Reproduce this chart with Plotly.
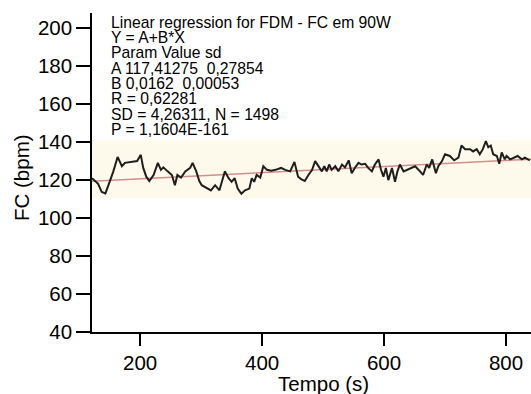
import plotly.graph_objects as go

# Heart-rate trace (time in s, FC in bpm)
time_s = [121, 125, 131, 137, 143, 148, 156, 163, 170, 175, 184, 195, 201, 205, 210, 215,
          222, 229, 234, 238, 245, 252, 257, 261, 267, 274, 282, 286, 292, 297, 301, 309,
          316, 323, 330, 334, 339, 345, 350, 355, 360, 366, 372, 379, 383, 387, 391, 397,
          402, 408, 415, 422, 431, 438, 446, 453, 459, 464, 470, 476, 482, 487, 492, 498,
          502, 506, 510, 514, 520, 525, 531, 536, 542, 547, 552, 558, 563, 569, 574, 580,
          585, 591, 595, 599, 603, 607, 613, 618, 622, 626, 632, 637, 643, 651, 659, 664,
          670, 674, 679, 685, 689, 695, 700, 708, 715, 722, 727, 733, 741, 746, 752, 757,
          762, 767, 771, 775, 779, 785, 789, 793, 798, 801, 807, 812, 819, 826, 831, 839]
fc_bpm = [121.0, 120.0, 118.0, 113.7, 113.0, 117.3, 124.6, 132.2, 127.3, 129.1, 129.5, 130.0,
          133.3, 126.4, 121.8, 119.5, 122.7, 129.1, 125.4, 126.7, 124.6, 122.7, 117.3, 122.7,
          121.3, 124.6, 126.4, 129.1, 124.6, 119.5, 117.3, 115.9, 114.6, 117.3, 114.6, 119.1,
          124.6, 121.0, 119.1, 121.0, 115.5, 112.8, 114.6, 115.5, 121.0, 119.1, 122.7, 121.3,
          127.3, 125.4, 124.9, 125.4, 126.4, 125.4, 124.6, 129.6, 121.8, 120.5, 119.5, 122.7,
          125.4, 130.0, 127.8, 124.6, 127.3, 124.6, 128.2, 125.4, 127.3, 124.6, 128.2, 126.7,
          130.4, 123.6, 126.4, 129.1, 128.2, 128.6, 126.4, 124.6, 128.2, 130.9, 125.4, 121.8,
          126.4, 120.0, 126.4, 119.1, 124.6, 128.2, 124.6, 125.4, 126.4, 127.3, 124.6, 122.7,
          128.2, 126.4, 130.9, 123.6, 127.3, 130.0, 133.6, 132.7, 130.4, 131.8, 138.2, 136.3,
          136.3, 135.1, 136.3, 133.6, 136.3, 140.5, 137.3, 138.2, 133.6, 132.7, 128.6, 134.6,
          130.9, 132.7, 130.9, 131.8, 132.7, 130.9, 131.8, 130.4]

# Linear regression parameters (from the chart text)
reg_A = 117.41275
reg_B = 0.0162
reg_x = [121, 845]
reg_y = [reg_A + reg_B * x for x in reg_x]

# Shaded band limits (bpm)
band = [110.5, 141]

info_lines = [
    "Linear regression for FDM - FC em 90W",
    "Y = A+B*X",
    "Param Value sd",
    "A 117,41275  0,27854",
    "B 0,0162  0,00053",
    "R = 0,62281",
    "SD = 4,26311, N = 1498",
    "P = 1,1604E-161",
]

x_ticks = [200, 400, 600, 800]
y_ticks = [40, 60, 80, 100, 120, 140, 160, 180, 200]

W, H = 531, 394
ML, MR, MT, MB = 92, 0, 13, 62
PH = H - MT - MB
PW = W - ML - MR

FONT = "Liberation Sans, Arial, Helvetica, sans-serif"

fig = go.Figure()
fig.add_shape(type="rect", xref="paper", yref="y", x0=0, x1=1, y0=band[0], y1=band[1],
              fillcolor="rgb(253,250,236)", line_width=0, layer="below")
fig.add_trace(go.Scatter(x=reg_x, y=reg_y, mode="lines",
                         line=dict(color="rgb(214,140,140)", width=1.5), hoverinfo="skip"))
fig.add_trace(go.Scatter(x=time_s, y=fc_bpm, mode="lines",
                         line=dict(color="rgb(30,30,30)", width=2)))

annotations = []
for i, t in enumerate(info_lines):
    ypix = 22 + 15.4 * i
    annotations.append(dict(text=t, xref="paper", yref="paper",
                            x=(109 - ML) / PW, y=(H - MB - ypix) / PH,
                            xanchor="left", yanchor="middle", showarrow=False,
                            font=dict(size=15.7, color="black", family=FONT)))
annotations.append(dict(text="Tempo (s)", xref="paper", yref="paper",
                        x=(323 - ML) / PW, y=(H - MB - 383) / PH,
                        xanchor="center", yanchor="middle", showarrow=False,
                        font=dict(size=20.5, color="black", family=FONT)))
annotations.append(dict(text="FC (bpm)", xref="paper", yref="paper",
                        x=(22 - ML) / PW, y=(H - MB - 178) / PH, textangle=-90,
                        xanchor="center", yanchor="middle", showarrow=False,
                        font=dict(size=20.5, color="black", family=FONT)))

fig.update_layout(
    width=W, height=H,
    margin=dict(l=ML, r=MR, t=MT, b=MB),
    paper_bgcolor="white", plot_bgcolor="white",
    showlegend=False,
    font=dict(family=FONT, color="black"),
    annotations=annotations,
    xaxis=dict(range=[121, 841], tickvals=x_ticks, showgrid=False, zeroline=False,
               showline=True, linecolor="black", linewidth=1.5,
               ticks="outside", ticklen=12, tickwidth=1.5, tickcolor="black",
               tickfont=dict(size=20.5, family=FONT, color="black")),
    yaxis=dict(range=[40, 208], tickvals=y_ticks, showgrid=False, zeroline=False,
               showline=True, linecolor="black", linewidth=1.5,
               ticks="outside", ticklen=14, tickwidth=1.5, tickcolor="black",
               tickfont=dict(size=20.5, family=FONT, color="black")),
)

fig.write_html("out.html")
